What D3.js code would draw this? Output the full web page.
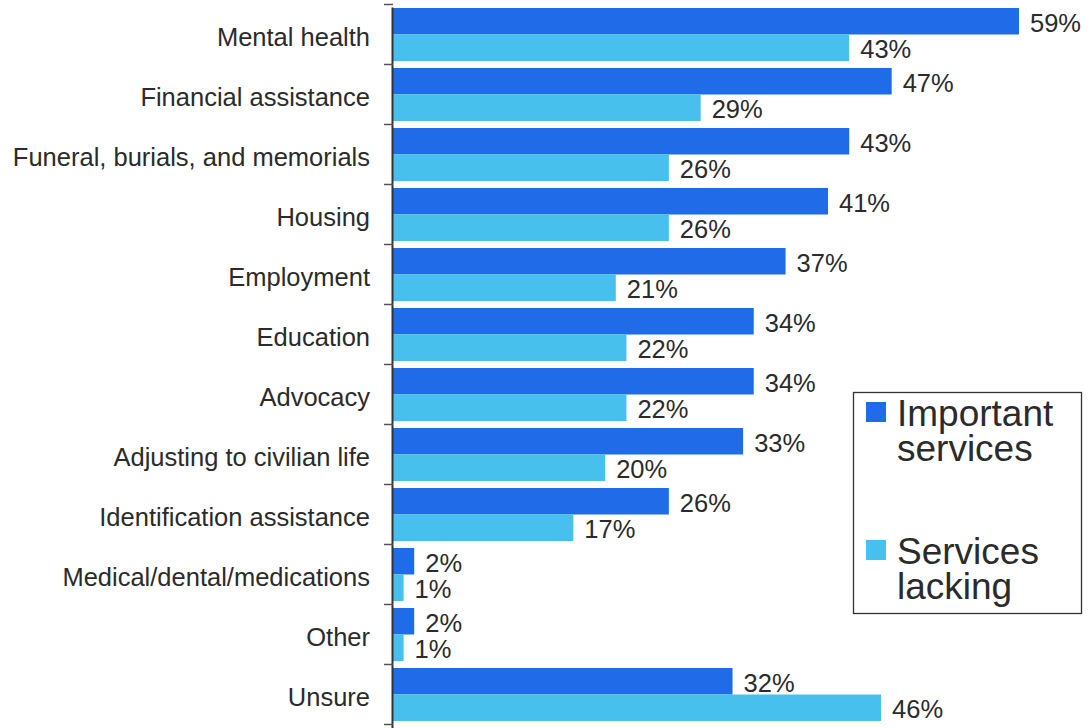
<!DOCTYPE html>
<html><head><meta charset="utf-8">
<script src="https://cdn.jsdelivr.net/npm/d3@7"></script>
<style>html,body{margin:0;padding:0;background:#fff;}svg{display:block;}</style>
</head><body>
<svg id="chart" width="1089" height="728"></svg>
<script>
const categories = ["Mental health","Financial assistance","Funeral, burials, and memorials","Housing","Employment","Education","Advocacy","Adjusting to civilian life","Identification assistance","Medical/dental/medications","Other","Unsure"];
const important = [59,47,43,41,37,34,34,33,26,2,2,32];
const lacking = [43,29,26,26,21,22,22,20,17,1,1,46];
const seriesNames = ["Important services","Services lacking"];
const colors = ["#1F6BE8","#48C0EE"];

const svg = d3.select("#chart");
const font = "'Liberation Sans', Arial, sans-serif";
const textColor = "#2b2b2b";

const x = d3.scaleLinear().domain([0,60]).range([393,1029.6]);
const y = d3.scaleBand().domain(categories).range([4.5,724.5]).paddingInner(0.117).paddingOuter(0.0585);
const sub = d3.scaleBand().domain([0,1]).range([0,y.bandwidth()]);
const step = y.step();

const rows = categories.map((c,i)=>({c, vals:[important[i], lacking[i]]}));

const g = svg.append("g");
const rowG = g.selectAll("g.row").data(rows).join("g").attr("transform", d=>`translate(0,${y(d.c)})`);
rowG.selectAll("rect").data(d=>d.vals.map((v,k)=>({v,k}))).join("rect")
  .attr("x", x(0)).attr("y", d=>sub(d.k)).attr("width", d=>x(d.v)-x(0)).attr("height", sub.bandwidth())
  .attr("fill", d=>colors[d.k]);
rowG.selectAll("text.val").data(d=>d.vals.map((v,k)=>({v,k}))).join("text")
  .attr("class","val")
  .attr("x", d=>x(d.v)+11).attr("y", d=>sub(d.k)+sub.bandwidth()/2+10.5)
  .attr("font-family", font).attr("font-size", 25.5).attr("fill", textColor)
  .text(d=>d.v+"%");

// category labels
g.selectAll("text.cat").data(categories).join("text").attr("class","cat")
  .attr("x", 370).attr("y", d=>y(d)+y.bandwidth()/2+11)
  .attr("text-anchor","end").attr("font-family", font).attr("font-size", 25.5).attr("fill", textColor)
  .text(d=>d);

// axis
const axisTop = y.range()[0];
g.append("line").attr("x1", x(0)-0.5).attr("x2", x(0)-0.5).attr("y1", axisTop+3).attr("y2", 728)
  .attr("stroke","#333").attr("stroke-width",2);
const ticks = d3.range(categories.length+1).map(i=>axisTop + i*step);
g.selectAll("line.tick").data(ticks).join("line").attr("class","tick")
  .attr("x1", x(0)-9).attr("x2", x(0)).attr("y1", d=>d).attr("y2", d=>d)
  .attr("stroke","#555").attr("stroke-width",1.5);

// legend
const lg = svg.append("g");
lg.append("rect").attr("x",853.5).attr("y",392.5).attr("width",228).attr("height",221)
  .attr("fill","#fff").attr("stroke","#333").attr("stroke-width",1.3);
const legendLines = [["Important","services"],["Services","lacking"]];
const legendTops = [402, 540];
legendLines.forEach((lines,k)=>{
  const top = legendTops[k];
  lg.append("rect").attr("x",866).attr("y",top).attr("width",20).attr("height",20).attr("fill",colors[k]);
  lines.forEach((t,j)=>{
    lg.append("text").attr("x",897).attr("y",top+24+j*34.5)
      .attr("font-family",font).attr("font-size",37).attr("fill",textColor).text(t);
  });
});
</script>
</body></html>
